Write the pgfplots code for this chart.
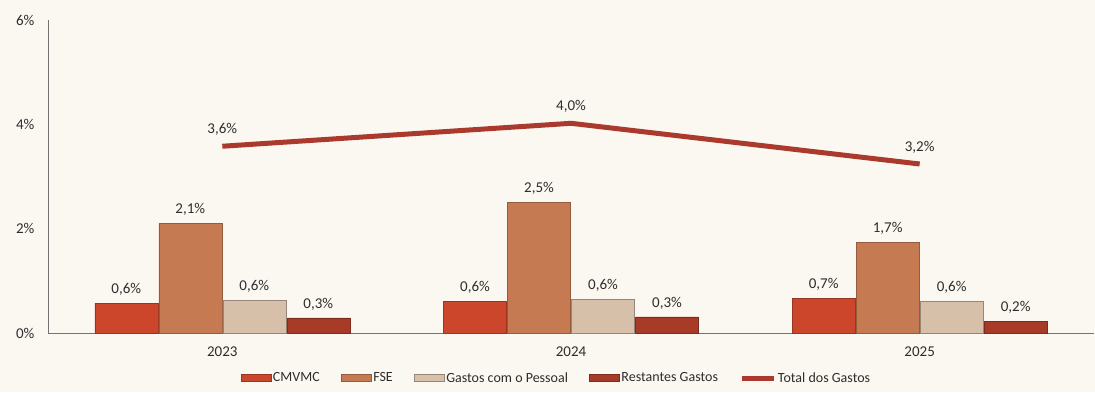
\documentclass[border=0pt]{standalone}
\usepackage{pgfplots}
\pgfplotsset{compat=1.18}
\usepackage{fontspec}
\setmainfont{Carlito}
\definecolor{bg}{RGB}{251,248,242}
\definecolor{cmv}{RGB}{204,70,44}
\definecolor{fse}{RGB}{197,122,82}
\definecolor{gpe}{RGB}{214,192,170}
\definecolor{rest}{RGB}{168,58,40}
\definecolor{tot}{RGB}{170,58,46}
\definecolor{txt}{RGB}{45,45,45}
\pgfplotstableread{
x cmv fse gpe rest tot lcmv lfse lgpe lrest ltot
0 0.57 2.10 0.63 0.29 3.58 0,6\% 2,1\% 0,6\% 0,3\% 3,6\%
1 0.61 2.51 0.65 0.31 4.02 0,6\% 2,5\% 0,6\% 0,3\% 4,0\%
2 0.67 1.74 0.61 0.23 3.24 0,7\% 1,7\% 0,6\% 0,2\% 3,2\%
}\data
\pgfplotsset{
  barstyle/.style={line width=0.5pt,
    legend image code/.code={\draw[##1] (0pt,-3.5pt) rectangle (30pt,3.5pt);}},
  linestyle/.style={sharp plot, mark=none,
    nodes near coords style={anchor=south, yshift=1pt},
    legend image code/.code={\draw[##1] (0pt,0pt) -- (32pt,0pt);}},
}
\begin{document}
\begin{tikzpicture}
\fill[bg] (-48pt,-59pt) rectangle (1047pt,333pt);
\begin{axis}[
  name=ax,
  scale only axis,
  width=1046pt, height=313pt,
  xmin=-0.5, xmax=2.5, ymin=0, ymax=6,
  ybar=1pt, bar width=63pt,
  axis x line=bottom, axis y line=left,
  axis line style={-, draw=black!55, line width=0.8pt},
  major tick length=0pt,
  xtick={0,1,2}, xticklabels={2023,2024,2025},
  ytick={0,2,4,6}, yticklabels={0\%,2\%,4\%,6\%},
  yticklabel style={xshift=-10pt},
  xticklabel style={yshift=-10pt},
  tick label style={font=\fontsize{15}{17}\selectfont, text=txt},
  clip=false,
  point meta=explicit symbolic,
  nodes near coords,
  nodes near coords style={anchor=south, yshift=4pt, font=\fontsize{15}{17}\selectfont, text=txt},
  legend style={at={(0.486,-0.144)}, anchor=center, legend columns=5,
    draw=none, fill=none, font=\fontsize{14}{16}\selectfont, text=txt,
    /tikz/every even column/.append style={column sep=20pt},
    nodes={inner xsep=1.5pt}},
  legend cell align=left,
]
\addplot[barstyle, fill=cmv, draw=cmv!75!black] table[x=x,y=cmv,meta=lcmv]{\data};
\addlegendentry{CMVMC}
\addplot[barstyle, fill=fse, draw=fse!75!black] table[x=x,y=fse,meta=lfse]{\data};
\addlegendentry{FSE}
\addplot[barstyle, fill=gpe, draw=gpe!70!black] table[x=x,y=gpe,meta=lgpe]{\data};
\addlegendentry{Gastos com o Pessoal}
\addplot[barstyle, fill=rest, draw=rest!75!black] table[x=x,y=rest,meta=lrest]{\data};
\addlegendentry{Restantes Gastos}
\addplot[linestyle, draw=tot, line width=5pt] table[x=x,y=tot,meta=ltot]{\data};
\addlegendentry{Total dos Gastos}
\end{axis}
\pgfresetboundingbox
\path (-48pt,-59pt) rectangle (1047pt,333pt);
\end{tikzpicture}
\end{document}
